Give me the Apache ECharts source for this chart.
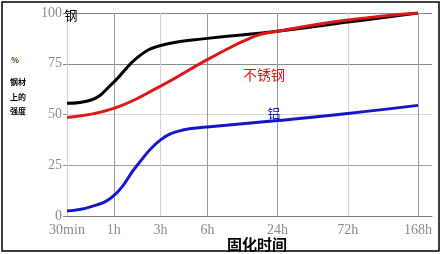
<!DOCTYPE html>
<html><head><meta charset="utf-8">
<script src="https://cdn.jsdelivr.net/npm/echarts@6/dist/echarts.min.js"></script>
<style>html,body{margin:0;padding:0;background:#fff}#c{width:441px;height:254px}</style>
</head><body><div id="c"></div>
<script>
// x positions on an uneven time scale: 30min=0, 1h=1, 3h=2, 6h=3, 24h=4.5, 72h=6, 168h=7.5
const tickValues = [0, 1, 2, 3, 4.5, 6, 7.5];
const tickLabels = ['30min', '1h', '3h', '6h', '24h', '72h', '168h'];
const steelX = [0, 0.5, 1.0, 1.5, 2.0, 3.0, 4.5, 6.0, 7.5];
const steelY = [55.5, 57, 66, 78, 84, 87.5, 91, 95.5, 100];
const stainX = [0, 1.0, 2.0, 3.0, 4.0, 4.5, 6.0, 7.5];
const stainY = [48.5, 53, 64, 77, 88.5, 91, 96.5, 100];
const aluX = [0, 0.5, 1.0, 1.5, 2.0, 2.5, 3.0, 4.5, 6.0, 7.5];
const aluY = [2.5, 4.5, 10, 25, 37.5, 42.5, 43.8, 47, 50.5, 54.5];
const yTicks = [0, 25, 50, 75, 100];

const zip = (xs, ys) => xs.map((x, i) => [x, ys[i]]);
const vColors = [];
for (let v = 0; v <= 7.5001; v += 0.5) {
  const i = tickValues.findIndex(t => Math.abs(t - v) < 1e-6);
  vColors.push(i < 0 ? 'rgba(0,0,0,0)' : ([0, 2, 5].includes(i) ? '#d4d4d4' : '#9a9a9a'));
}
vColors.push('rgba(0,0,0,0)');
const serif = '"Liberation Serif", "DejaVu Serif", serif';
const cjk = '"Noto Sans CJK SC", sans-serif';

const chart = echarts.init(document.getElementById('c'), null, {renderer: 'canvas'});
chart.setOption({
  animation: false,
  grid: {left: 67, right: 9, top: 13, bottom: 38},
  xAxis: {
    type: 'value', min: 0, max: 7.8, interval: 0.5,
    axisLine: {show: true, lineStyle: {color: '#777', width: 1}},
    axisTick: {show: false},
    splitLine: {show: true, showMinLine: true, showMaxLine: true, lineStyle: {color: vColors, width: 1}},
    axisLabel: {
      margin: 7, color: '#8a8a8a', fontFamily: serif, fontSize: 14,
      showMinLabel: true, showMaxLabel: true,
      formatter: v => { const i = tickValues.findIndex(t => Math.abs(t - v) < 1e-6); return i < 0 ? '' : tickLabels[i]; }
    }
  },
  yAxis: {
    type: 'value', min: 0, max: 100, interval: 25,
    axisLine: {show: false},
    axisTick: {show: true, length: 4, lineStyle: {color: '#888'}},
    splitLine: {show: true, lineStyle: {color: ['#777', '#a0a0a0', '#d8d8d8', '#8a8a8a', '#8a8a8a'], width: 1}},
    axisLabel: {margin: 5, color: '#8a8a8a', fontFamily: serif, fontSize: 14,
      formatter: v => yTicks.includes(v) ? String(v) : ''}
  },
  series: [
    {type: 'line', name: '铝', data: zip(aluX, aluY), smooth: 0.45, showSymbol: false,
     lineStyle: {color: '#1515cc', width: 3}, z: 3},
    {type: 'line', name: '钢', data: zip(steelX, steelY), smooth: 0.45, showSymbol: false,
     lineStyle: {color: '#000', width: 3}, z: 4},
    {type: 'line', name: '不锈钢', data: zip(stainX, stainY), smooth: 0.45, showSymbol: false,
     lineStyle: {color: '#e01515', width: 3}, z: 5}
  ],
  graphic: [
    {type: 'rect', shape: {x: 2, y: 2, width: 437, height: 249}, style: {fill: null, stroke: '#000', lineWidth: 1.5}, z: 100},
    {type: 'text', x: 71, y: 15, style: {text: '钢', fill: '#000', font: '13px ' + cjk, textAlign: 'center', textVerticalAlign: 'middle'}, z: 50},
    {type: 'text', x: 264, y: 75, style: {text: '不锈钢', fill: '#e01515', font: '14px ' + cjk, textAlign: 'center', textVerticalAlign: 'middle'}, z: 50},
    {type: 'text', x: 274, y: 113, style: {text: '铝', fill: '#1515cc', font: '13px ' + cjk, textAlign: 'center', textVerticalAlign: 'middle'}, z: 50},
    {type: 'text', x: 257, y: 244, style: {text: '固化时间', fill: '#000', font: 'bold 15px ' + cjk, textAlign: 'center', textVerticalAlign: 'middle'}, z: 50},
    {type: 'text', x: 15, y: 60, style: {text: '%', fill: '#553311', font: 'bold 8px ' + cjk, textAlign: 'center', textVerticalAlign: 'middle'}, z: 50},
    {type: 'text', x: 18, y: 82, style: {text: '钢材', fill: '#000', font: 'bold 8px ' + cjk, textAlign: 'center', textVerticalAlign: 'middle'}, z: 50},
    {type: 'text', x: 18, y: 97, style: {text: '上的', fill: '#000', font: 'bold 8px ' + cjk, textAlign: 'center', textVerticalAlign: 'middle'}, z: 50},
    {type: 'text', x: 18, y: 111, style: {text: '强度', fill: '#000', font: 'bold 8px ' + cjk, textAlign: 'center', textVerticalAlign: 'middle'}, z: 50}
  ]
});
</script></body></html>
